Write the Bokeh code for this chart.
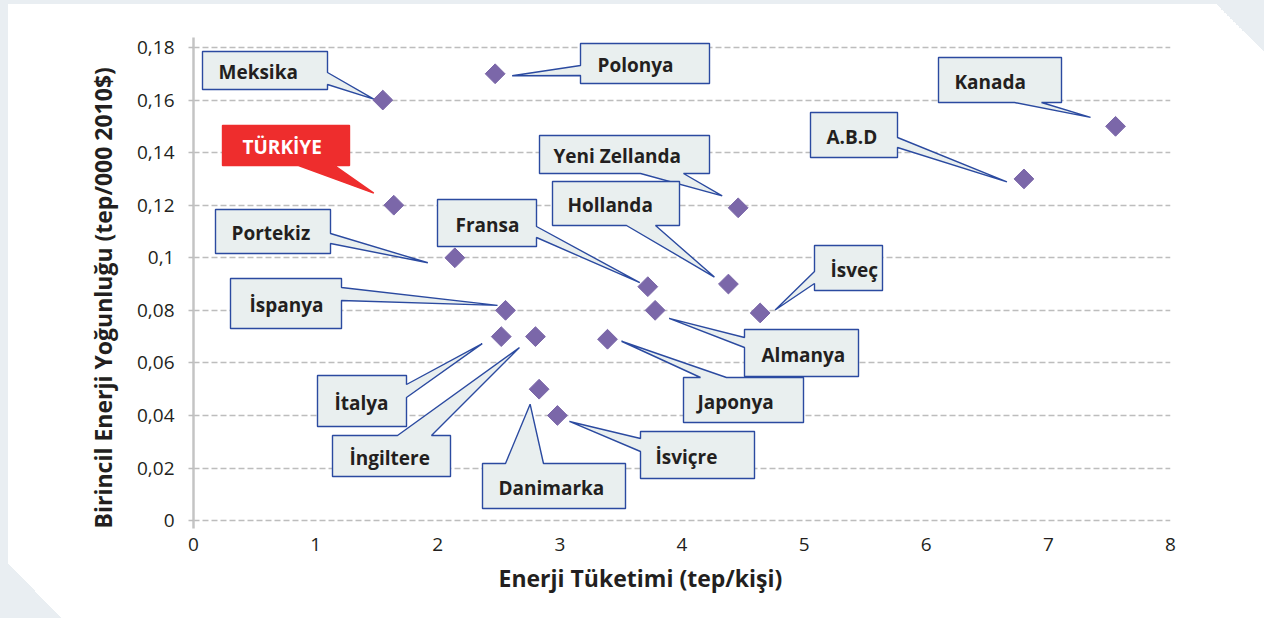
import math
from bokeh.plotting import figure
from bokeh.models import (ColumnDataSource, FixedTicker, CustomJSTickFormatter, Title,
                          Range1d, GlobalInlineStyleSheet)
from bokeh.core.properties import value
from bokeh.embed import file_html
from bokeh.resources import INLINE

# ---------------- data ----------------
countries = ["Meksika", "Polonya", "Kanada", "A.B.D", "TÜRKİYE", "Yeni Zellanda",
             "Hollanda", "Fransa", "Portekiz", "İspanya", "İsveç", "Almanya",
             "İtalya", "İngiltere", "Japonya", "Danimarka", "İsviçre"]
energy_use = [1.55, 2.47, 7.55, 6.80, 1.64, 4.46, 4.38, 3.72, 2.14, 2.555, 4.64, 3.78,
              2.52, 2.80, 3.39, 2.83, 2.98]
intensity = [0.16, 0.17, 0.15, 0.13, 0.12, 0.119, 0.09, 0.089, 0.10, 0.08, 0.079, 0.08,
             0.07, 0.07, 0.069, 0.05, 0.04]
x_ticks = [0, 1, 2, 3, 4, 5, 6, 7, 8]
y_ticks = [0, 0.02, 0.04, 0.06, 0.08, 0.10, 0.12, 0.14, 0.16, 0.18]
x_title = "Enerji Tüketimi (tep/kişi)"
y_title = "Birincil Enerji Yoğunluğu (tep/000 2010$)"

# ---------------- layout (screen px) ----------------
W, H = 1264, 618
MB_L, MB_R, MB_T, MB_B = 193, 94, 37, 90
X0, X1 = 0, 8
Y0, Y1 = -0.003, 0.1838
FL = MB_L
FT = MB_T
FW = W - MB_L - MB_R
FH = H - MB_T - MB_B

def px2x(sx):
    return X0 + (sx - FL) / FW * (X1 - X0)

def px2y(sy):
    return Y1 - (sy - FT) / FH * (Y1 - Y0)

def x2px(x):
    return FL + (x - X0) / (X1 - X0) * FW

def y2px(y):
    return FT + (Y1 - y) / (Y1 - Y0) * FH

# callout: box l, r, t, b, wedge edge, wedge base a1, a2, tip offset from point, text left
callouts = {
    "Meksika":       (202, 327, 51, 89, "right", 72, 84, -9, -1, 218),
    "Polonya":       (580, 709, 43, 83, "left", 65, 75, 17, 2, 597),
    "Kanada":        (938, 1061, 57, 102, "bottom", 1014, 1041, -25, -9, 954),
    "A.B.D":         (810, 897, 112, 157, "right", 137, 147, -17, 3, 826),
    "TÜRKİYE":       (222, 349, 125, 165, "bottom", 298, 334, -20, -12, 242),
    "Yeni Zellanda": (539, 709, 135, 173, "bottom", 640, 683, -16, -12, 553),
    "Hollanda":      (552, 679, 181, 225, "bottom", 626, 655, -14, -7, 567),
    "Fransa":        (437, 536, 199, 246, "right", 226, 237, -8, -4, 455),
    "Portekiz":      (215, 330, 209, 253, "right", 233, 243, -27, 5, 231),
    "İspanya":       (230, 341, 278, 328, "right", 287, 300, -8, -5, 249),
    "İsveç":         (814, 882, 245, 290, "left", 271, 283, 15, -3, 830),
    "Almanya":       (744, 858, 329, 376, "left", 337, 347, 14, 8, 761),
    "İtalya":        (317, 406, 375, 426, "right", 384, 397, -19, 7, 334),
    "İngiltere":     (332, 450, 435, 476, "top", 397, 431, -16, 11, 349),
    "Japonya":       (683, 803, 377, 422, "top", 700, 726, 14, 2, 697),
    "Danimarka":     (482, 625, 463, 508, "top", 505, 543, -9, 15, 498),
    "İsviçre":       (640, 754, 431, 478, "left", 438, 451, 12, 6, 655),
}

def callout_poly(l, r, t, b, edge, a1, a2, tip):
    lo, hi = min(a1, a2), max(a1, a2)
    pts = [(l, t)]
    if edge == "top":
        pts += [(lo, t), tip, (hi, t)]
    pts.append((r, t))
    if edge == "right":
        pts += [(r, lo), tip, (r, hi)]
    pts.append((r, b))
    if edge == "bottom":
        pts += [(hi, b), tip, (lo, b)]
    pts.append((l, b))
    if edge == "left":
        pts += [(l, hi), tip, (l, lo)]
    return [px2x(p[0]) for p in pts], [px2y(p[1]) for p in pts]

BOX_FILL = "#e9efef"
BOX_LINE = "#2b4aa0"
RED = "#ee2d2d"
TEXT = "#231f20"
PURPLE = "#7b67a9"
BG_GRAY = "#e9eef2"

xs, ys, fills, lines = [], [], [], []
tx, ty, tt, tcol = [], [], [], []
for name, xv, yv in zip(countries, energy_use, intensity):
    l, r, t, b, edge, a1, a2, dx, dy, txl = callouts[name]
    tip = (x2px(xv) + dx, y2px(yv) + dy)
    px, py = callout_poly(l, r, t, b, edge, a1, a2, tip)
    xs.append(px); ys.append(py)
    red = name == "TÜRKİYE"
    fills.append(RED if red else BOX_FILL)
    lines.append(RED if red else BOX_LINE)
    tx.append(px2x(txl)); ty.append(px2y((t + b) / 2 + 1.5)); tt.append(name)
    tcol.append("#ffffff" if red else TEXT)

p = figure(width=W, height=H, output_backend="svg", toolbar_location=None,
           x_range=Range1d(X0, X1), y_range=Range1d(Y0, Y1),
           min_border_left=MB_L, min_border_right=MB_R,
           min_border_top=MB_T, min_border_bottom=MB_B,
           background_fill_color=None, border_fill_color=None,
           outline_line_color=None)

# page background with decorative chamfered panel
p.stylesheets = [GlobalInlineStyleSheet(css=f"""
html {{ height: 100%; background:
  linear-gradient({BG_GRAY},{BG_GRAY}) 0 0 / 100% 4px no-repeat,
  linear-gradient({BG_GRAY},{BG_GRAY}) 0 0 / 8px 100% no-repeat,
  linear-gradient(to bottom left, {BG_GRAY} 50%, transparent 50%) right 0 top 4px / 48px 48px no-repeat,
  linear-gradient(to top right, {BG_GRAY} 50%, transparent 50%) left 8px bottom 0 / 53px 55px no-repeat,
  #ffffff; }}
body {{ margin: 0; background: transparent; }}
""")]

# axes
p.xgrid.visible = False
p.ygrid.grid_line_color = "#bdbdbd"
p.ygrid.grid_line_width = 1.6
p.ygrid.grid_line_dash = "6 3"

p.yaxis.ticker = FixedTicker(ticks=y_ticks)
p.yaxis.formatter = CustomJSTickFormatter(code="""
let s = tick.toFixed(2).replace(/0+$/, '').replace(/\\.$/, '');
return s.replace('.', ',');
""")
p.yaxis.axis_line_color = "#c4c4c4"
p.yaxis.axis_line_width = 2.5
p.yaxis.major_tick_line_color = "#bdbdbd"
p.yaxis.major_tick_line_width = 1.6
p.yaxis.major_tick_out = 5
p.yaxis.major_tick_in = 0
p.yaxis.minor_tick_line_color = None
p.yaxis.major_label_standoff = 14
p.yaxis.major_label_text_font = "Open Sans"
p.yaxis.major_label_text_font_size = "19px"
p.yaxis.major_label_text_color = TEXT

p.xaxis.ticker = FixedTicker(ticks=x_ticks)
p.xaxis.axis_line_color = None
p.xaxis.major_tick_line_color = None
p.xaxis.minor_tick_line_color = None
p.xaxis.major_label_standoff = 3
p.xaxis.major_label_text_font = "Open Sans"
p.xaxis.major_label_text_font_size = "19px"
p.xaxis.major_label_text_color = TEXT

# callouts
src = ColumnDataSource(dict(xs=xs, ys=ys, fill=fills, line=lines))
p.patches("xs", "ys", source=src, fill_color="fill", line_color="line", line_width=1.4)
tsrc = ColumnDataSource(dict(x=tx, y=ty, text=tt, color=tcol))
p.text("x", "y", text="text", source=tsrc, text_color="color",
       text_font=value("Open Sans"), text_font_style="bold", text_font_size="19px",
       text_align="left", text_baseline="middle")

# data points
p.scatter(energy_use, intensity, marker="square", angle=math.pi / 4, size=14,
          fill_color=PURPLE, line_color=PURPLE)

# axis titles
p.add_layout(Title(text=x_title, align="left", offset=498 - FL, standoff=12,
                   text_font="Open Sans", text_font_style="bold",
                   text_font_size="23px", text_color=TEXT), "below")
p.add_layout(Title(text=y_title, align="left", offset=0, standoff=29,
                   text_font="Open Sans", text_font_style="bold",
                   text_font_size="23px", text_color=TEXT), "left")

open("out.html", "w").write(file_html(p, INLINE))
